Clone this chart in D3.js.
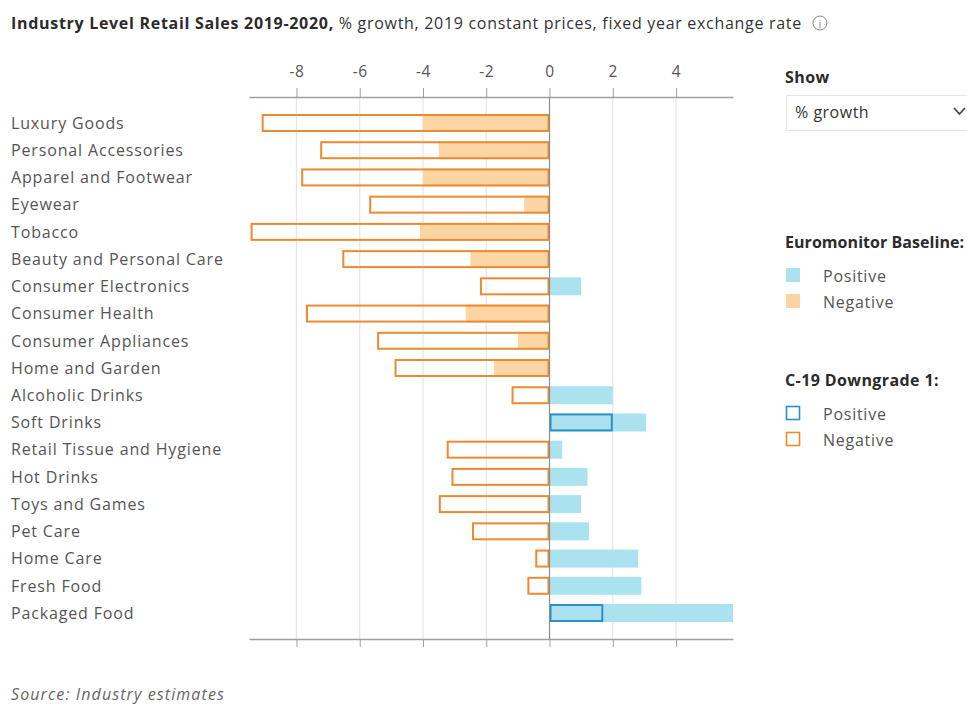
<!DOCTYPE html>
<html>
<head>
<meta charset="utf-8">
<script src="https://cdn.jsdelivr.net/npm/d3@7"></script>
<style>
  html, body { margin: 0; padding: 0; background: #fff; }
  svg { display: block; font-family: "Open Sans", Lato, sans-serif; }
</style>
</head>
<body>
<svg id="chart" width="967" height="706"></svg>
<script>
// Categories, top to bottom
const categories = [
  "Luxury Goods", "Personal Accessories", "Apparel and Footwear", "Eyewear",
  "Tobacco", "Beauty and Personal Care", "Consumer Electronics", "Consumer Health",
  "Consumer Appliances", "Home and Garden", "Alcoholic Drinks", "Soft Drinks",
  "Retail Tissue and Hygiene", "Hot Drinks", "Toys and Games", "Pet Care",
  "Home Care", "Fresh Food", "Packaged Food"
];
// Euromonitor Baseline, % growth
const baseline = [
  -4.0, -3.5, -4.0, -0.8, -4.1, -2.5, 1.0, -2.65, -1.0, -1.75,
  2.0, 3.05, 0.4, 1.2, 1.0, 1.25, 2.8, 2.9, 5.8
];
// C-19 Downgrade 1, % growth
const downgrade = [
  -9.1, -7.25, -7.85, -5.7, -9.45, -6.55, -2.2, -7.7, -5.45, -4.9,
  -1.2, 2.0, -3.25, -3.1, -3.5, -2.45, -0.45, -0.7, 1.7
];
const xTicks = [-8, -6, -4, -2, 0, 2, 4];
const xDomain = [-9.5, 5.8];

const colors = {
  posFill: "#abe2f0",
  negFill: "#fcd5a5",
  posLine: "#2e8fc6",
  negLine: "#ec8a2f",
  grid: "#e6e6e6",
  axis: "#a0a0a0",
  text: "#555555",
  dark: "#2b2b2b"
};

const svg = d3.select("#chart");

const x = d3.scaleLinear().domain(xDomain).range([249, 733]);
const y = d3.scaleBand().domain(categories).range([97, 639])
  .paddingInner(0.34).paddingOuter(0.625);

// Title
const title = svg.append("text").attr("x", 11).attr("y", 29)
  .attr("font-size", 16).attr("fill", colors.dark).attr("letter-spacing", 0.7);
title.append("tspan").attr("font-weight", 700).text("Industry Level Retail Sales 2019-2020,");
title.append("tspan").attr("fill", "#333").text(" % growth, 2019 constant prices, fixed year exchange rate");
const tb = title.node().getBBox();
const info = svg.append("g").attr("transform", `translate(${tb.x + tb.width + 18},23)`);
info.append("circle").attr("r", 7).attr("fill", "none").attr("stroke", "#888").attr("stroke-width", 1);
info.append("text").attr("text-anchor", "middle").attr("y", 4.5).attr("font-size", 11)
  .attr("fill", "#888").text("i");

// Grid lines
svg.append("g").selectAll("line").data(xTicks.filter(d => d !== 0)).join("line")
  .attr("x1", d => x(d)).attr("x2", d => x(d))
  .attr("y1", 97).attr("y2", 639)
  .attr("stroke", colors.grid).attr("stroke-width", 1.2);

// Top axis
const topAxis = svg.append("g").attr("transform", "translate(0,97)")
  .call(d3.axisTop(x).tickValues(xTicks).tickSize(9).tickSizeOuter(0).tickPadding(11)
    .tickFormat(d3.format("d")));
topAxis.select(".domain").attr("stroke", colors.axis).attr("stroke-width", 1.5);
topAxis.selectAll(".tick line").attr("stroke", colors.axis);
topAxis.selectAll(".tick text").attr("font-size", 15.5).attr("fill", colors.text)
  .attr("font-family", "'Open Sans', sans-serif").attr("letter-spacing", 0.5)
  .text(d => d < 0 ? "-" + Math.abs(d) : d);

// Bottom axis
const botAxis = svg.append("g").attr("transform", "translate(0,639)")
  .call(d3.axisBottom(x).tickValues(xTicks).tickSize(8).tickSizeOuter(0).tickFormat(""));
botAxis.select(".domain").attr("stroke", colors.axis).attr("stroke-width", 1.5);
botAxis.selectAll(".tick line").attr("stroke", colors.axis);

// Baseline bars (filled)
const rows = categories.map((c, i) => ({ c, b: baseline[i], d: downgrade[i] }));
svg.append("g").selectAll("rect").data(rows).join("rect")
  .attr("x", d => x(Math.min(0, d.b)))
  .attr("width", d => Math.abs(x(d.b) - x(0)))
  .attr("y", d => y(d.c))
  .attr("height", y.bandwidth())
  .attr("fill", d => d.b >= 0 ? colors.posFill : colors.negFill);

// Downgrade bars (outlined)
svg.append("g").selectAll("rect").data(rows).join("rect")
  .attr("x", d => x(Math.min(0, d.d)) + 1)
  .attr("width", d => Math.abs(x(d.d) - x(0)) - 2)
  .attr("y", d => y(d.c) + 1)
  .attr("height", y.bandwidth() - 2)
  .attr("fill", "none")
  .attr("stroke-width", 2)
  .attr("stroke", d => d.d >= 0 ? colors.posLine : colors.negLine);

// Zero line
svg.append("line").attr("x1", x(0)).attr("x2", x(0)).attr("y1", 97).attr("y2", 639)
  .attr("stroke", "#8c8c8c").attr("stroke-width", 1.2);

// Category labels
svg.append("g").selectAll("text").data(categories).join("text")
  .attr("x", 11).attr("y", d => y(d) + y.bandwidth() / 2)
  .attr("dy", "0.36em").attr("font-size", 16).attr("fill", colors.text)
  .attr("letter-spacing", 0.85)
  .text(d => d);

// Side panel: selector
svg.append("text").attr("x", 785).attr("y", 83).attr("font-size", 16)
  .attr("font-weight", 700).attr("fill", colors.dark).attr("letter-spacing", 0.4).text("Show");
svg.append("rect").attr("x", 786.5).attr("y", 95.5).attr("width", 200).attr("height", 35)
  .attr("fill", "#fff").attr("stroke", "#e3e3e3");
svg.append("text").attr("x", 795).attr("y", 118).attr("font-size", 16)
  .attr("fill", "#333").attr("letter-spacing", 0.5).text("% growth");
svg.append("path").attr("d", "M954,108 L959.5,114 L965,108")
  .attr("fill", "none").attr("stroke", "#444").attr("stroke-width", 1.8);

// Legends
function legend(yTop, heading, items, spacing) {
  svg.append("text").attr("x", 785).attr("y", yTop).attr("font-size", 16)
    .attr("font-weight", 700).attr("fill", colors.dark).attr("letter-spacing", spacing).text(heading);
  items.forEach((it, i) => {
    const yy = yTop + 28 + i * 26;
    const r = svg.append("rect").attr("x", 786).attr("y", yy - 8).attr("width", 14).attr("height", 14);
    if (it.outline) {
      r.attr("x", 786.5).attr("y", yy - 7.5).attr("width", 13).attr("height", 13)
        .attr("fill", "#fff").attr("stroke", it.color).attr("stroke-width", 1.6);
    } else {
      r.attr("fill", it.color);
    }
    svg.append("text").attr("x", 823).attr("y", yy).attr("dy", "0.36em")
      .attr("font-size", 16).attr("fill", colors.text).attr("letter-spacing", 0.75).text(it.label);
  });
}
legend(248, "Euromonitor Baseline:", [
  { label: "Positive", color: colors.posFill },
  { label: "Negative", color: colors.negFill }
], 0.05);
legend(386, "C-19 Downgrade 1:", [
  { label: "Positive", color: colors.posLine, outline: true },
  { label: "Negative", color: colors.negLine, outline: true }
], 0.4);

// Source note
svg.append("text").attr("x", 11).attr("y", 700).attr("font-size", 16)
  .attr("font-style", "italic").attr("fill", "#666").attr("letter-spacing", 1.1)
  .text("Source: Industry estimates");
</script>
</body>
</html>
